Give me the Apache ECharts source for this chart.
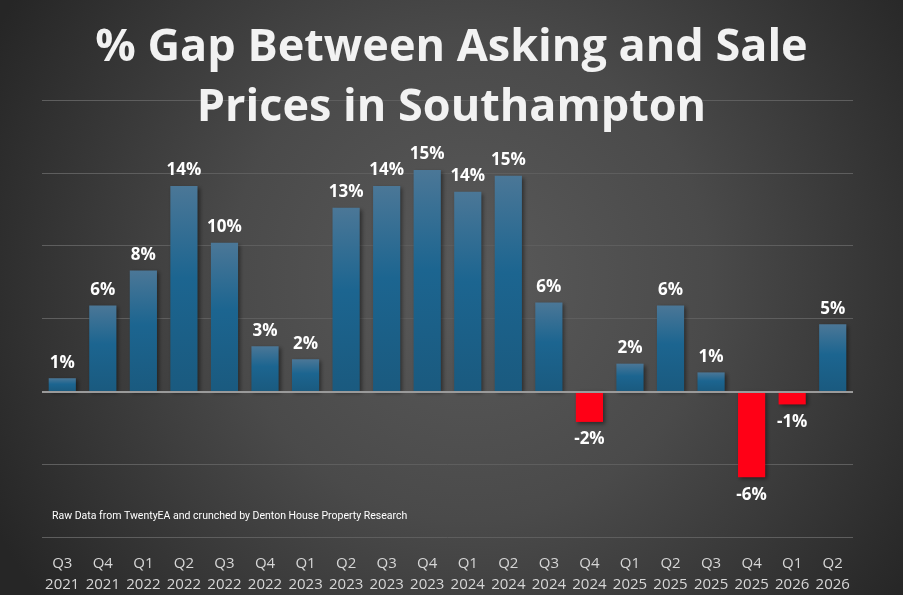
<!DOCTYPE html>
<html>
<head>
<meta charset="utf-8">
<script src="https://cdn.jsdelivr.net/npm/echarts@6/dist/echarts.min.js"></script>
<style>
  html, body { margin: 0; padding: 0; }
  #chart { width: 903px; height: 595px; }
</style>
</head>
<body>
<div id="chart"></div>
<script>
const quarters = ['Q3', 'Q4', 'Q1', 'Q2', 'Q3', 'Q4', 'Q1', 'Q2', 'Q3', 'Q4',
                  'Q1', 'Q2', 'Q3', 'Q4', 'Q1', 'Q2', 'Q3', 'Q4', 'Q1', 'Q2'];
const years = ['2021', '2021', '2022', '2022', '2022', '2022', '2023', '2023', '2023', '2023',
               '2024', '2024', '2024', '2024', '2025', '2025', '2025', '2025', '2026', '2026'];
// % gap between asking and sale price
const gapValues = [0.9, 5.9, 8.3, 14.1, 10.2, 3.1, 2.2, 12.6, 14.1, 15.2,
                   13.7, 14.8, 6.1, -2.1, 1.9, 5.9, 1.3, -5.9, -0.9, 4.6];
const yTicks = { min: -10, max: 20, interval: 5 };

const categories = quarters.map((q, i) => q + '\n' + years[i]);

const blueFill = new echarts.graphic.LinearGradient(0, 0, 0, 1, [
  { offset: 0, color: '#4b7797' },
  { offset: 0.45, color: '#1c6590' },
  { offset: 1, color: '#1a5a7f' }
]);

const barData = gapValues.map(v => ({
  value: v,
  itemStyle: { color: v < 0 ? '#ff0016' : blueFill },
  label: { position: v < 0 ? 'bottom' : 'top', distance: v < 0 ? 9 : 7 }
}));

const chart = echarts.init(document.getElementById('chart'));
chart.setOption({
  animation: false,
  backgroundColor: {
    type: 'radial', x: 0.52, y: 0.47, r: 0.9,
    colorStops: [
      { offset: 0, color: '#5a5a5a' },
      { offset: 0.45, color: '#4a4a4a' },
      { offset: 1, color: '#262626' }
    ]
  },
  title: {
    text: '% Gap Between Asking and Sale\nPrices in Southampton',
    left: 'center',
    top: 13,
    textStyle: {
      color: '#f2f2f2', fontFamily: 'Open Sans', fontWeight: 'bold',
      fontSize: 45, lineHeight: 60
    }
  },
  graphic: [{
    type: 'text', left: 52, top: 511,
    scaleX: 0.955,
    style: {
      text: 'Raw Data from TwentyEA and crunched by Denton House Property Research',
      fill: '#ffffff', font: '11px Roboto'
    }
  }],
  grid: { left: 42, right: 50, top: 100, bottom: 58 },
  xAxis: {
    type: 'category',
    data: categories,
    axisLine: { show: false },
    axisTick: { show: false },
    axisLabel: {
      color: '#d6d6d6', fontFamily: 'Open Sans', fontSize: 15, lineHeight: 21,
      margin: 16, interval: 0
    }
  },
  yAxis: {
    type: 'value',
    min: yTicks.min, max: yTicks.max, interval: yTicks.interval,
    axisLabel: { show: false },
    axisLine: { show: false },
    axisTick: { show: false },
    splitLine: { lineStyle: { color: '#5e5e5e', width: 1 } }
  },
  series: [{
    type: 'bar',
    data: barData,
    barWidth: '67%',
    itemStyle: {
      shadowColor: 'rgba(0,0,0,0.45)', shadowBlur: 4, shadowOffsetX: 2, shadowOffsetY: 2
    },
    label: {
      show: true,
      color: '#ffffff', fontFamily: 'Open Sans', fontWeight: 'bold', fontSize: 17,
      formatter: p => Math.round(p.value) + '%'
    },
    markLine: {
      silent: true, symbol: 'none', label: { show: false },
      lineStyle: { color: '#9a9a9a', width: 2, type: 'solid' },
      data: [{ yAxis: 0 }]
    }
  }]
});
</script>
</body>
</html>
